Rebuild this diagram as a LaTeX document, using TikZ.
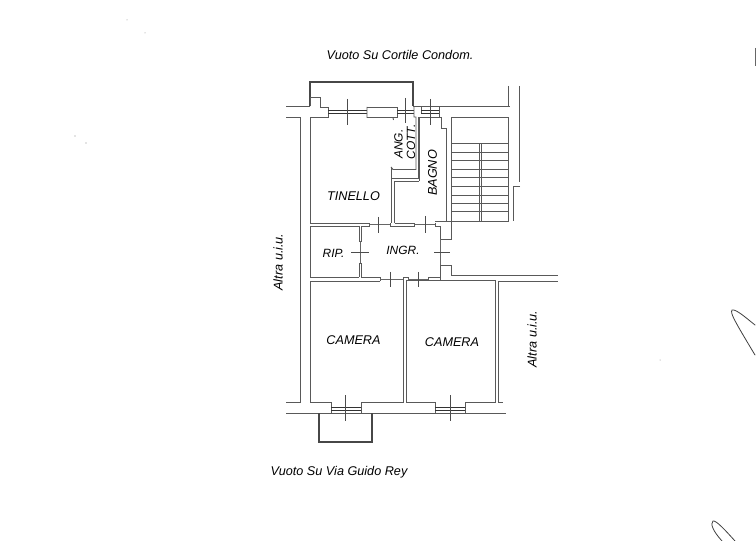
\documentclass[tikz,border=0pt]{standalone}
\usepackage{fontspec}
\setmainfont{Liberation Sans}
\tikzset{
  wall/.style={draw=black!65,line width=0.95pt,line join=miter},
  heavy/.style={draw=black!72,line width=1.4pt,line join=miter},
  win/.style={draw=black!80,line width=1pt},
  tick/.style={draw=black!70,line width=0.55pt},
  thin/.style={draw=black!60,line width=0.5pt},
  ink/.style={draw=black!75,line width=0.8pt,line cap=round},
  speck/.style={fill=black!45,draw=none},
  lbl/.style={font=\itshape\fontsize{12.7}{14}\selectfont,text=black,inner sep=0pt},
  smalllbl/.style={font=\itshape\fontsize{12}{14}\selectfont,text=black,inner sep=0pt}
}
\begin{document}
\begin{tikzpicture}[x=1bp,y=-1bp]
\useasboundingbox (0,0) rectangle (756,541);
\fill[white] (0,0) rectangle (756,541);
% balcony top
\draw[heavy] (310,106.5)--(310,82)--(413,82)--(413,106.5);
% top left outer and pier
\draw[wall] (286,106.5)--(310,106.5);
\draw[wall] (310,106.5)--(310,97)--(320,97)--(320,107)--(328,107)--(328,114);
\draw[wall] (286,117.5)--(300.5,117.5)--(300.5,402.5)--(286,402.5);
\draw[win] (328,110.5)--(367,110.5) (328,113.5)--(367,113.5);
% tinello
\draw[wall] (328,114)--(328,117.5)--(310,117.5)--(310,223)--(369,223);
\draw[wall] (367,107)--(367,117.5)--(393,117.5)--(393.5,120);
\draw[wall] (367,107)--(397,107)--(397,114);
\draw[win] (397,110.5)--(414,110.5) (397,113.5)--(414,113.5);
\draw[wall] (397,114)--(397,117.5)--(393,117.5);
\draw[wall] (414,107)--(414,117)--(416,117)--(416,169.5)--(393,169.5)--(391,167);
\draw[wall] (391,167)--(391,223);
\draw[wall] (391,178.5)--(418,178.5)--(418,117.5)--(419,117.5);
\draw[wall] (394.5,181)--(419,181);
\draw[wall] (394.5,181)--(394.5,223);
% bagno
\draw[wall] (413,106.5)--(510,106.5);
\draw[wall] (421,107)--(421,114) (439,107)--(439,117.5);
\draw[win] (421,110.5)--(439,110.5) (421,113.5)--(439,113.5);
\draw[wall] (419,117.5)--(441.5,117.5)--(441.5,128)--(446.7,128)--(446.7,221.5)--(435,221.5);
\draw[wall] (419,117.5)--(419,181);
% stairs
\draw[wall] (451.7,240)--(451.7,117.5)--(508,117.5)--(508,221.5)--(446.7,221.5);
\foreach \yy in {143.3,152.3,160.7,169,177.3,186,195,203.3,211.7}
  \draw[wall] (451.7,\yy)--(508,\yy);
\draw[wall] (479.2,143.3)--(479.2,221.5) (481.6,143.3)--(481.6,221.5);
\draw[wall] (508,86)--(508,106.5);
\draw[wall] (519,86)--(519,182);
\draw[wall] (520,186.7)--(513.3,186.7)--(513.3,221.5);
% tinello bottom / ingr top
\draw[wall] (310,226)--(310,277)--(358.5,277);
\draw[wall] (310,226)--(359,226)--(359,241)--(361.5,241)--(361.5,226)--(369,226)--(369,223);
\draw[wall] (394.5,223)--(414,223)--(414,226)--(390,226)--(390,223);
\draw[wall] (435,223)--(435,226)--(440,226)--(440,239.3)--(451.7,239.3);
\draw[thin] (369,224.5)--(390,224.5) (414,224.5)--(435,224.5);
% ripostiglio door and lower part
\draw[thin] (360.2,241)--(360.2,263);
\draw[wall] (359,263)--(361.5,263)--(361.5,277)--(380,277)--(380,281);
\draw[wall] (359,263)--(359,277);
% right door
\draw[thin] (440.5,239.3)--(440.5,265);
\draw[wall] (440,265)--(451.7,265)--(451.7,275.5)--(558,275.5);
\draw[wall] (440,265)--(440,280.5);
\draw[wall] (428,277)--(440,277);
\draw[wall] (428,277)--(428,280.5);
\draw[wall] (403.5,277)--(408,277)--(408,280.5);
\draw[thin] (380,279)--(403.5,279) (408,279)--(428,279);
% cameras
\draw[wall] (310,281)--(380,281);
\draw[wall] (310,281)--(310,402.5)--(331,402.5)--(331,413);
\draw[wall] (361,413)--(361,402.5)--(403.5,402.5)--(403.5,277);
\draw[wall] (406,280.5)--(406,402.5)--(435,402.5)--(435,413);
\draw[wall] (465,413)--(465,402.5)--(495,402.5)--(495,280.5)--(406,280.5);
\draw[wall] (498.3,281)--(558,281);
\draw[wall] (498.3,281)--(498.3,402.5)--(503,402.5);
\draw[win] (331,407)--(361,407) (331,410)--(361,410);
\draw[win] (435,407)--(465,407) (435,410.5)--(465,410.5);
% bottom
\draw[wall] (286,413.3)--(506,413.3);
\draw[heavy] (319,413.3)--(319,442)--(372,442)--(372,413.3);
% ticks
\draw[tick] (347,99)--(347,125);
\draw[tick] (405.5,98)--(405.5,123);
\draw[tick] (430,99)--(430,125);
\draw[tick] (378,217)--(378,233);
\draw[tick] (425,216)--(425,233);
\draw[tick] (351,252)--(369,252);
\draw[tick] (434,252)--(450,252);
\draw[tick] (390.5,272)--(390.5,287);
\draw[tick] (418,272)--(418,287);
\draw[tick] (345.3,395)--(345.3,421);
\draw[tick] (450,395)--(450,421);
% labels
\node[lbl] (tinello) at (353.5,196) {TINELLO};
\node[smalllbl,rotate=90] (ang) at (398.5,144) {ANG.};
\node[smalllbl,rotate=90] (cott) at (411,142) {COTT.};
\node[lbl,rotate=90] (bagno) at (432.5,173) {BAGNO};
\node[smalllbl] (rip) at (333.5,253) {RIP.};
\node[smalllbl] (ingr) at (403,250) {INGR.};
\node[lbl] (cam1) at (353.5,340) {CAMERA};
\node[lbl] (cam2) at (452,342) {CAMERA};
\node[lbl,rotate=90] (alt1) at (278,262) {Altra u.i.u.};
\node[lbl,rotate=90] (alt2) at (532,339) {Altra u.i.u.};
\node[lbl] (t1) at (400,55) {Vuoto Su Cortile Condom.};
\node[lbl] (t2) at (339,472) {Vuoto Su Via Guido Rey};
% stray marks
\draw[ink] (755,325)..controls (745,317) and (736,309)..(732,310)..controls (730,313) and (734,320)..(755,355);
\draw[ink] (735,541)..controls (726,531) and (716,520)..(713,521)..controls (710,524) and (713,531)..(722,541);
\draw[draw=black!60,line width=0.8pt] (755.5,48)--(755.5,66);
\fill[speck] (127,20) circle (.5) (145,33) circle (.5) (75,136) circle (.6) (86,143) circle (.6) (660,360) circle (.5);
\end{tikzpicture}
\end{document}
